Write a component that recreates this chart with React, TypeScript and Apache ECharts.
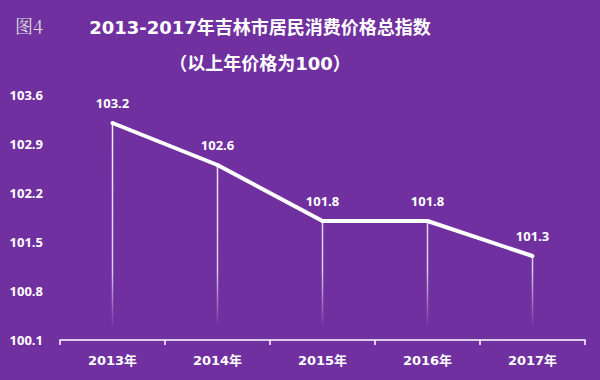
import React, { useEffect, useRef } from "react";
import * as echarts from "echarts";

const categories = ["2013年", "2014年", "2015年", "2016年", "2017年"];
const values = [103.2, 102.6, 101.8, 101.8, 101.3];
const yMin = 100.1;
const yMax = 103.6;
const yInterval = 0.7;
const titleLine1 = "2013-2017年吉林市居民消费价格总指数";
const titleLine2 = "（以上年价格为100）";
const figLabel = "图4";

const FONT = "'DejaVu Sans', 'Noto Sans CJK SC', sans-serif";
const NUMFONT = "'Open Sans', 'Noto Sans', sans-serif";

export default function App() {
  const ref = useRef<HTMLDivElement>(null);
  useEffect(() => {
    if (!ref.current) return;
    const chart = echarts.init(ref.current, undefined, { renderer: "svg" });
    chart.setOption({
      animation: false,
      backgroundColor: "#7030A0",
      textStyle: { fontFamily: FONT },
      graphic: [
        {
          type: "text",
          left: 15,
          top: 16,
          style: {
            text: figLabel,
            fill: "#d9d9d9",
            font: "normal 18px 'Noto Serif CJK SC', 'DejaVu Serif', serif",
          },
        },
        {
          type: "text",
          x: 260,
          y: 27,
          style: {
            text: titleLine1,
            fill: "#ffffff",
            textAlign: "center",
            textVerticalAlign: "middle",
            font: "bold 18px " + FONT,
          },
        },
        {
          type: "text",
          x: 260,
          y: 63,
          style: {
            text: titleLine2,
            fill: "#ffffff",
            textAlign: "center",
            textVerticalAlign: "middle",
            font: "bold 18px " + FONT,
          },
        },
      ],
      grid: { left: 60, right: 15, top: 95, bottom: 40, containLabel: false },
      xAxis: {
        type: "category",
        data: categories,
        boundaryGap: true,
        axisLine: { show: true, lineStyle: { color: "#ffffff", width: 1.5 } },
        axisTick: { show: true, length: 5, lineStyle: { color: "#ffffff", width: 1.5 } },
        axisLabel: {
          color: "#ffffff",
          fontWeight: "bold",
          fontSize: 13,
          margin: 14,
          fontFamily: FONT,
        },
        splitLine: { show: false },
      },
      yAxis: {
        type: "value",
        min: yMin,
        max: yMax,
        interval: yInterval,
        axisLine: { show: false },
        axisTick: { show: false },
        splitLine: { show: false },
        axisLabel: {
          color: "#ffffff",
          fontWeight: "bold",
          fontSize: 13,
          margin: 17,
          fontFamily: NUMFONT,
          formatter: (v: number) => v.toFixed(1),
        },
      },
      series: [
        {
          type: "bar",
          data: values,
          barWidth: 1.5,
          z: 1,
          itemStyle: {
            color: new echarts.graphic.LinearGradient(
              0,
              95,
              0,
              340,
              [
                { offset: 0, color: "rgba(255,255,255,0.95)" },
                { offset: 0.72, color: "rgba(255,255,255,0.75)" },
                { offset: 0.95, color: "rgba(255,255,255,0)" },
                { offset: 1, color: "rgba(255,255,255,0)" },
              ],
              true
            ),
          },
          silent: true,
        },
        {
          type: "line",
          data: values,
          z: 3,
          symbol: "circle",
          symbolSize: 4,
          showSymbol: true,
          lineStyle: { color: "#ffffff", width: 4 },
          itemStyle: { color: "#ffffff" },
          label: {
            show: true,
            position: "top",
            distance: 12,
            color: "#ffffff",
            fontWeight: "bold",
            fontSize: 13,
            fontFamily: NUMFONT,
            formatter: (p: any) => Number(p.value).toFixed(1),
          },
        },
      ],
    });
    return () => chart.dispose();
  }, []);
  return (
    <div
      ref={ref}
      style={{ position: "fixed", left: 0, top: 0, width: 600, height: 380 }}
    />
  );
}
